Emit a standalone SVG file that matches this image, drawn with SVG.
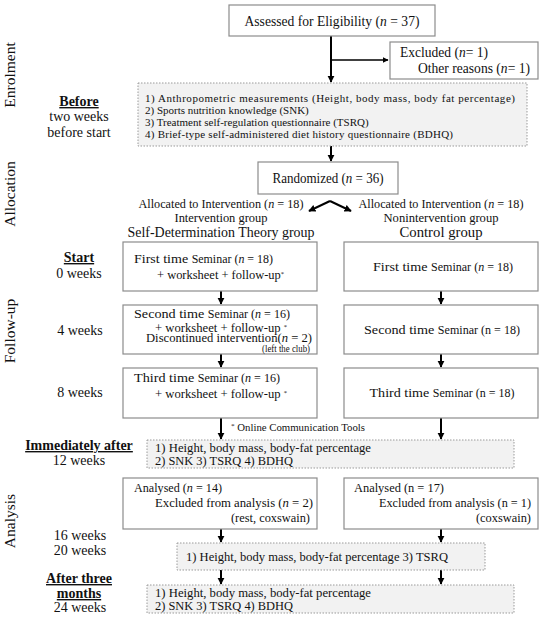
<svg xmlns="http://www.w3.org/2000/svg" width="550" height="618" viewBox="0 0 550 618">
<defs>
<marker id="ah" viewBox="0 0 10 10" refX="9" refY="5" markerWidth="3.6" markerHeight="3.6" orient="auto"><path d="M0,0 L10,5 L0,10 z" fill="#000"/></marker>
</defs>
<style>
text{font-family:"Liberation Serif","Times New Roman",serif;fill:#111}
.box{fill:#fff;stroke:#8c8c8c;stroke-width:1.2}
.dbox{fill:#f2f2f2;stroke:#9a9a9a;stroke-width:1;stroke-dasharray:1.5 1.5}
.m{font-size:14px}
.mb{font-size:13.5px}
.sem{font-size:11.5px}
.s{font-size:11px}
.d{font-size:12.5px}
.sm{font-size:12px}
.lab{font-size:14px;text-anchor:middle}
.sec{font-size:15.5px;text-anchor:middle}
.b{font-weight:bold;text-decoration:underline}
.c{text-anchor:middle}
.e{text-anchor:end}
.i{font-style:italic}
.ar{stroke:#000;stroke-width:2;fill:none;marker-end:url(#ah)}
.sup{font-size:7px}
</style>

<g id="section-labels">
<text class="sec" transform="translate(15,75) rotate(-90)">Enrolment</text>
<text class="sec" transform="translate(15,194) rotate(-90)">Allocation</text>
<text class="sec" transform="translate(15,331) rotate(-90)">Follow-up</text>
<text class="sec" transform="translate(15,521) rotate(-90)">Analysis</text>
</g>

<g id="time-labels">
<text class="lab b" x="79" y="106">Before</text>
<text class="lab" x="79" y="121">two weeks</text>
<text class="lab" x="79" y="137">before start</text>
<text class="lab b" x="79" y="262">Start</text>
<text class="lab" x="79" y="278">0 weeks</text>
<text class="lab" x="80" y="335">4 weeks</text>
<text class="lab" x="80" y="397">8 weeks</text>
<text class="lab b" x="79" y="450">Immediately after</text>
<text class="lab" x="79" y="465">12 weeks</text>
<text class="lab" x="80" y="540">16 weeks</text>
<text class="lab" x="80" y="555">20 weeks</text>
<text class="lab b" x="79" y="583">After three</text>
<text class="lab b" x="79" y="598">months</text>
<text class="lab" x="80" y="612">24 weeks</text>
</g>

<g id="connectors">
<line class="ar" x1="331" y1="36" x2="331" y2="82"/>
<line class="ar" x1="331" y1="60" x2="388" y2="60" style="stroke-width:1.6"/>
<line class="ar" x1="331" y1="146" x2="331" y2="161"/>
<line class="ar" x1="330" y1="201" x2="309" y2="211"/>
<line class="ar" x1="330" y1="201" x2="351" y2="211"/>
<line class="ar" x1="221" y1="291" x2="221" y2="304"/>
<line class="ar" x1="441" y1="291" x2="441" y2="304"/>
<line class="ar" x1="221" y1="354" x2="221" y2="367"/>
<line class="ar" x1="441" y1="354" x2="441" y2="367"/>
<line class="ar" x1="221" y1="418" x2="221" y2="439"/>
<line class="ar" x1="441" y1="418" x2="441" y2="439"/>
<line class="ar" x1="221" y1="529" x2="221" y2="542"/>
<line class="ar" x1="441" y1="529" x2="441" y2="542"/>
<line class="ar" x1="221" y1="570" x2="221" y2="584"/>
<line class="ar" x1="441" y1="570" x2="441" y2="584"/>
</g>

<g id="assessed">
<rect class="box" x="229" y="5" width="206" height="31"/>
<text class="m c" x="332" y="26" textLength="175" lengthAdjust="spacingAndGlyphs">Assessed for Eligibility (<tspan class="i">n</tspan> = 37)</text>
</g>

<g id="excluded">
<rect class="box" x="390" y="42" width="148" height="37"/>
<text class="m" x="400" y="57" textLength="88" lengthAdjust="spacingAndGlyphs">Excluded (<tspan class="i">n</tspan>= 1)</text>
<text class="m" x="418" y="73" textLength="112" lengthAdjust="spacingAndGlyphs">Other reasons (<tspan class="i">n</tspan>= 1)</text>
</g>

<g id="baseline-measures">
<rect class="dbox" x="138" y="83" width="389" height="63"/>
<text class="s" x="145" y="102" textLength="370" lengthAdjust="spacing">1) Anthropometric measurements (Height, body mass, body fat percentage)</text>
<text class="s" x="145" y="114">2) Sports nutrition knowledge (SNK)</text>
<text class="s" x="145" y="126">3) Treatment self-regulation questionnaire (TSRQ)</text>
<text class="s" x="145" y="138" textLength="308" lengthAdjust="spacing">4) Brief-type self-administered diet history questionnaire (BDHQ)</text>
</g>

<g id="randomized">
<rect class="box" x="258" y="162" width="140" height="32"/>
<text class="m c" x="328" y="183" textLength="111" lengthAdjust="spacingAndGlyphs">Randomized (<tspan class="i">n</tspan> = 36)</text>
</g>

<g id="allocation-left">
<text class="sm c" x="221" y="208" textLength="165" lengthAdjust="spacingAndGlyphs">Allocated to Intervention (<tspan class="i">n</tspan> = 18)</text>
<text class="sm c" x="221" y="222" textLength="93" lengthAdjust="spacingAndGlyphs">Intervention group</text>
<text class="m c" x="221" y="237" textLength="187" lengthAdjust="spacingAndGlyphs">Self-Determination Theory group</text>
</g>

<g id="allocation-right">
<text class="sm c" x="441" y="208" textLength="165" lengthAdjust="spacingAndGlyphs">Allocated to Intervention (<tspan class="i">n</tspan> = 18)</text>
<text class="sm c" x="441" y="222" textLength="115" lengthAdjust="spacingAndGlyphs">Nonintervention group</text>
<text class="m c" x="441" y="237" textLength="83" lengthAdjust="spacingAndGlyphs">Control group</text>
</g>

<g id="int-first">
<rect class="box" x="123" y="242" width="194" height="49"/>
<text class="mb" x="134" y="263" textLength="139" lengthAdjust="spacingAndGlyphs">First time <tspan class="sem">Seminar (<tspan class="i">n</tspan> = 18)</tspan></text>
<text class="mb" x="157" y="279" textLength="127" lengthAdjust="spacingAndGlyphs">+ worksheet + follow-up<tspan class="sup" baseline-shift="3">*</tspan></text>
</g>

<g id="ctl-first">
<rect class="box" x="344" y="242" width="194" height="49"/>
<text class="mb c" x="443" y="271" textLength="140" lengthAdjust="spacingAndGlyphs">First time <tspan class="sem">Seminar (<tspan class="i">n</tspan> = 18)</tspan></text>
</g>

<g id="int-second">
<rect class="box" x="123" y="305" width="194" height="49"/>
<text class="mb" x="134" y="318" textLength="156" lengthAdjust="spacingAndGlyphs">Second time <tspan class="sem">Seminar (<tspan class="i">n</tspan> = 16)</tspan></text>
<text class="mb" x="155" y="332" textLength="132" lengthAdjust="spacingAndGlyphs">+ worksheet + follow-up <tspan class="sup" baseline-shift="3">*</tspan></text>
<text font-size="11.5" x="146" y="342" textLength="166" lengthAdjust="spacingAndGlyphs">Discontinued intervention(<tspan class="i">n</tspan> = 2)</text>
<text font-size="10" class="e" x="310" y="352" textLength="48" lengthAdjust="spacingAndGlyphs">(left the club)</text>
</g>

<g id="ctl-second">
<rect class="box" x="344" y="305" width="194" height="49"/>
<text class="mb c" x="442" y="334" textLength="156" lengthAdjust="spacingAndGlyphs">Second time <tspan class="sem">Seminar (n = 18)</tspan></text>
</g>

<g id="int-third">
<rect class="box" x="123" y="368" width="194" height="50"/>
<text class="mb" x="134" y="382" textLength="146" lengthAdjust="spacingAndGlyphs">Third time <tspan class="sem">Seminar (<tspan class="i">n</tspan> = 16)</tspan></text>
<text class="mb" x="155" y="398" textLength="132" lengthAdjust="spacingAndGlyphs">+ worksheet + follow-up <tspan class="sup" baseline-shift="3">*</tspan></text>
</g>

<g id="ctl-third">
<rect class="box" x="344" y="368" width="194" height="50"/>
<text class="mb c" x="442" y="397" textLength="145" lengthAdjust="spacingAndGlyphs">Third time <tspan class="sem">Seminar (n = 18)</tspan></text>
</g>

<g id="footnote">
<text font-size="10.5" x="231" y="431" textLength="134" lengthAdjust="spacingAndGlyphs"><tspan class="sup" baseline-shift="3">*</tspan> Online Communication Tools</text>
</g>

<g id="post-measures">
<rect class="dbox" x="147" y="440" width="367" height="28"/>
<text class="d" x="155" y="452" textLength="216" lengthAdjust="spacingAndGlyphs">1)  Height, body mass, body-fat percentage</text>
<text class="d" x="155" y="465" textLength="138" lengthAdjust="spacingAndGlyphs">2)  SNK 3)  TSRQ 4)  BDHQ</text>
</g>

<g id="int-analysed">
<rect class="box" x="123" y="478" width="194" height="51"/>
<text class="d" x="134" y="492" textLength="88" lengthAdjust="spacingAndGlyphs">Analysed (<tspan class="i">n</tspan> = 14)</text>
<text class="d e" x="313" y="507" textLength="158" lengthAdjust="spacingAndGlyphs">Excluded from analysis (<tspan class="i">n</tspan> = 2)</text>
<text class="d e" x="310" y="522" textLength="79" lengthAdjust="spacingAndGlyphs">(rest, coxswain)</text>
</g>

<g id="ctl-analysed">
<rect class="box" x="344" y="478" width="194" height="51"/>
<text class="d" x="354" y="492" textLength="90" lengthAdjust="spacingAndGlyphs">Analysed (n = 17)</text>
<text class="d e" x="531" y="507" textLength="152" lengthAdjust="spacingAndGlyphs">Excluded from analysis (n = 1)</text>
<text class="d e" x="531" y="522" textLength="55" lengthAdjust="spacingAndGlyphs">(coxswain)</text>
</g>

<g id="followup-measures">
<rect class="dbox" x="177" y="543" width="308" height="27"/>
<text class="d" x="186" y="561" textLength="262" lengthAdjust="spacingAndGlyphs">1)  Height, body mass, body-fat percentage 3)  TSRQ</text>
</g>

<g id="final-measures">
<rect class="dbox" x="147" y="585" width="367" height="28"/>
<text class="d" x="155" y="597" textLength="216" lengthAdjust="spacingAndGlyphs">1)  Height, body mass, body-fat percentage</text>
<text class="d" x="155" y="610" textLength="138" lengthAdjust="spacingAndGlyphs">2)  SNK 3)  TSRQ 4)  BDHQ</text>
</g>
</svg>
